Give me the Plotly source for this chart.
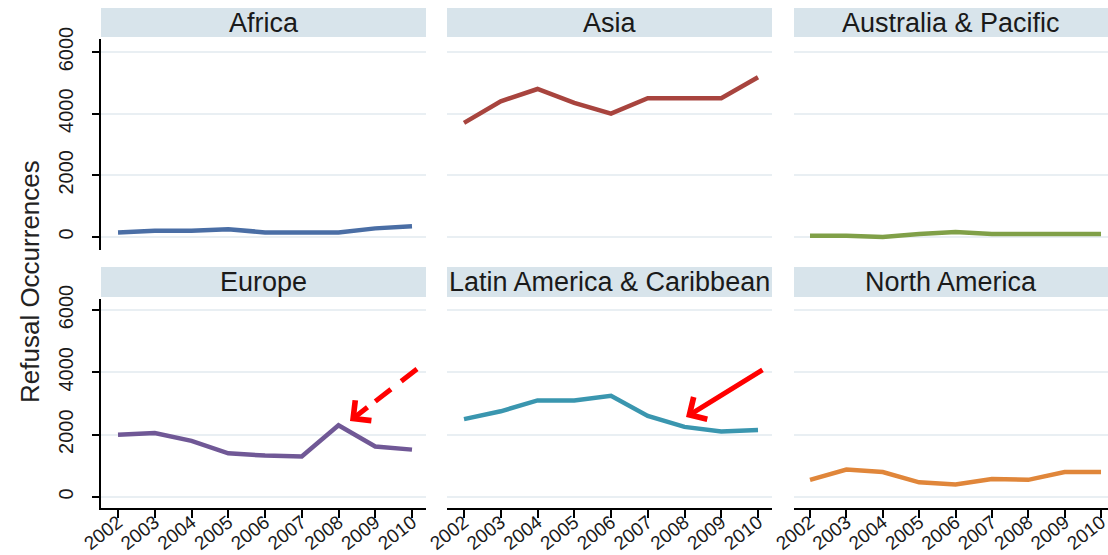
import plotly.graph_objects as go

# ---------------- data ----------------
years = [2002, 2003, 2004, 2005, 2006, 2007, 2008, 2009, 2010]
regions = ["Africa", "Asia", "Australia & Pacific",
           "Europe", "Latin America & Caribbean", "North America"]

africa = [150, 200, 200, 250, 150, 150, 150, 280, 350]
asia = [3700, 4400, 4800, 4350, 4000, 4500, 4500, 4500, 5180]
australia = [40, 40, 0, 100, 160, 100, 100, 100, 100]
europe = [2000, 2050, 1800, 1400, 1330, 1300, 2300, 1620, 1520]
latin = [2500, 2750, 3100, 3100, 3250, 2600, 2250, 2100, 2150]
north_america = [550, 880, 800, 470, 400, 580, 550, 800, 800]

series = [africa, asia, australia, europe, latin, north_america]
colors = ["#4a6ea5", "#a8443e", "#80a048", "#705896", "#3a96af", "#e0863a"]

y_ticks = [0, 2000, 4000, 6000]
y_title = "Refusal Occurrences"

# ---------------- layout geometry ----------------
W, H = 1108, 555
col_px = [(101, 426), (447, 772), (794, 1108)]
row_px = [(39, 250), (299, 508)]          # plot area (top, bottom) in px from top
strip_px = [(8, 37), (267, 297)]
x_ranges = [[2001.537, 2010.381], [2001.537, 2010.381], [2001.56, 2010.192]]
y_ranges = [[-421.6, 6421.6], [-353, 6353]]

font_fam = "Liberation Sans, Arial, sans-serif"
txt_col = "#1a1a1a"
grid_col = "#e9eff3"

fig = go.Figure()
layout = dict(
    width=W, height=H,
    margin=dict(l=0, r=0, t=0, b=0),
    paper_bgcolor="white", plot_bgcolor="white",
    showlegend=False,
    font=dict(family=font_fam, color=txt_col),
)
shapes = []
annotations = []

for i, (name, vals, col) in enumerate(zip(regions, series, colors)):
    r, c = divmod(i, 3)
    n = i + 1
    xa = "x" if n == 1 else f"x{n}"
    ya = "y" if n == 1 else f"y{n}"
    xkey = "xaxis" if n == 1 else f"xaxis{n}"
    ykey = "yaxis" if n == 1 else f"yaxis{n}"
    x0, x1 = col_px[c]
    top, bot = row_px[r]
    fig.add_trace(go.Scatter(x=years, y=vals, mode="lines",
                             line=dict(color=col, width=4.5),
                             xaxis=xa, yaxis=ya, hoverinfo="x+y"))
    bottom_row = (r == 1)
    layout[xkey] = dict(
        domain=[x0 / W, x1 / W], anchor=ya, range=x_ranges[c],
        tickvals=years, ticktext=[str(y) for y in years],
        showticklabels=bottom_row, ticks="outside" if bottom_row else "",
        ticklen=8, tickwidth=2, tickcolor="black",
        showline=bottom_row, linecolor="black", linewidth=2,
        showgrid=False, zeroline=False, tickangle=-38,
        ticklabelstandoff=-14, ticklabeloverflow="allow",
        tickfont=dict(size=19, color=txt_col, family=font_fam),
        automargin=False, fixedrange=True,
    )
    left_col = (c == 0)
    layout[ykey] = dict(
        domain=[(H - bot) / H, (H - top) / H], anchor=xa, range=y_ranges[r],
        tickvals=y_ticks, showticklabels=left_col,
        ticks="outside" if left_col else "", ticklen=7, tickwidth=2,
        tickcolor="black", showline=left_col, linecolor="black", linewidth=2,
        showgrid=True, gridcolor=grid_col, gridwidth=2, zeroline=False,
        tickangle=-90, ticklabelstandoff=11,
        tickfont=dict(size=20, color=txt_col, family=font_fam),
        automargin=False, fixedrange=True,
    )
    # strip header
    s0, s1 = strip_px[r]
    shapes.append(dict(type="rect", xref="paper", yref="paper",
                       x0=x0 / W, x1=x1 / W, y0=(H - s1) / H, y1=(H - s0) / H,
                       fillcolor="#d8e4eb", line=dict(width=0), layer="below"))
    annotations.append(dict(text=name, xref="paper", yref="paper",
                            x=(x0 + x1) / 2 / W, y=(H - (s0 + s1) / 2) / H,
                            xanchor="center", yanchor="middle", showarrow=False,
                            font=dict(size=27, color=txt_col, family=font_fam)))

# y axis title
annotations.append(dict(text=y_title, xref="paper", yref="paper",
                        x=30 / W, y=(H - 282) / H, textangle=-90,
                        xanchor="center", yanchor="middle", showarrow=False,
                        font=dict(size=26, color="#222222", family=font_fam)))

# dashed arrow in Europe panel
shapes.append(dict(type="line", xref="x4", yref="y4",
                   x0=2010.136, y0=4107, x1=2009.001, y1=3068,
                   line=dict(color="#ff0000", width=5, dash="20px,13px")))
annotations.append(dict(x=2008.313, y=2439, xref="x4", yref="y4",
                        ax=19, ay=-15, showarrow=True, arrowhead=4,
                        arrowwidth=5, arrowsize=1.0, arrowcolor="#ff0000",
                        text=""))
# solid arrow in Latin America panel
annotations.append(dict(x=2008.041, y=2567, xref="x5", yref="y5",
                        ax=2010.163, ay=4107, axref="x5", ayref="y5",
                        showarrow=True, arrowhead=4, arrowwidth=5,
                        arrowsize=1.0, arrowcolor="#ff0000", text=""))

layout["shapes"] = shapes
layout["annotations"] = annotations
fig.update_layout(**layout)
fig.write_html("out.html",
               config={"displayModeBar": False},
               post_script="document.body.style.margin='0';"
                           "document.body.style.overflow='hidden';")
